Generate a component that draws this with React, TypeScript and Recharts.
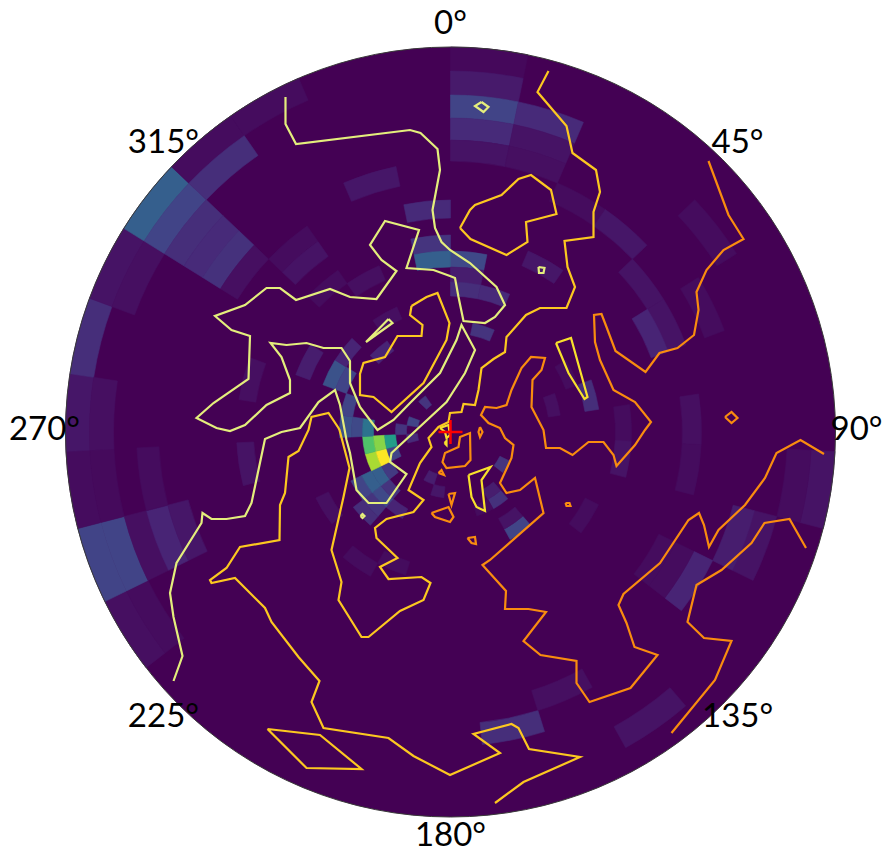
import { Pie, PieChart, ReferenceDot, Scatter, ScatterChart, Sector, XAxis, YAxis } from "recharts";

const WIDTH = 882;
const HEIGHT = 852;
const CX = 450.5;
const CY = 432;
const RADIUS = 385;

// ring edges, outer to inner, 31 sectors per ring
const ringEdges = [385, 361, 337, 314, 292, 271, 251, 232, 214, 197, 181, 165, 150, 136, 123, 111, 99, 88, 77, 66, 55, 44, 33, 22, 11, 0];
const sectorCount = 31;

// [ring, sector, value] for every cell above the floor of the colour scale
const heatCells = [
  [0, 26, 0.3], [1, 26, 0.2], [2, 26, 0.13], [3, 26, 0.12], [4, 26, 0.14], [5, 26, 0.04],
  [1, 27, 0.13], [0, 27, 0.03], [0, 28, 0.03], [0, 25, 0.05], [1, 25, 0.04], [0, 24, 0.13],
  [0, 23, 0.06], [1, 23, 0.04], [0, 22, 0.03], [1, 22, 0.025], [0, 21, 0.2], [1, 21, 0.2],
  [2, 21, 0.04], [3, 21, 0.1], [4, 21, 0.06], [0, 20, 0.04], [1, 20, 0.03], [8, 22, 0.05],
  [3, 22, 0.03], [5, 29, 0.06], [7, 30, 0.12], [9, 30, 0.15], [10, 30, 0.3], [10, 0, 0.22],
  [12, 1, 0.12], [15, 1, 0.15], [12, 0, 0.13], [11, 0, 0.08], [2, 0, 0.2], [3, 0, 0.12],
  [1, 0, 0.07], [4, 0, 0.05], [0, 0, 0.02], [2, 1, 0.12], [3, 1, 0.05], [4, 1, 0.04],
  [5, 3, 0.06], [5, 2, 0.03], [2, 4, 0.03], [7, 5, 0.1], [6, 5, 0.05], [6, 4, 0.05],
  [4, 5, 0.03], [9, 2, 0.06], [12, 6, 0.13], [6, 7, 0.04], [10, 7, 0.03], [15, 6, 0.04],
  [13, 5, 0.03], [14, 12, 0.2], [17, 12, 0.14], [18, 12, 0.08], [15, 12, 0.05], [19, 10, 0.15],
  [17, 13, 0.03], [4, 10, 0.1], [6, 10, 0.03], [5, 10, 0.03], [3, 9, 0.08], [2, 9, 0.05],
  [0, 8, 0.05], [1, 8, 0.03], [10, 8, 0.05], [6, 8, 0.03], [3, 14, 0.13], [4, 13, 0.04],
  [1, 12, 0.05], [11, 10, 0.03], [17, 22, 0.72], [18, 22, 0.82], [19, 22, 0.55], [17, 23, 0.38],
  [16, 23, 0.22], [17, 21, 0.87], [18, 21, 1], [19, 21, 0.2], [16, 20, 0.3], [17, 20, 0.3],
  [18, 20, 0.17], [15, 20, 0.2], [16, 19, 0.22], [17, 19, 0.15], [16, 18, 0.1], [14, 19, 0.13],
  [15, 19, 0.15], [15, 24, 0.2], [13, 25, 0.25], [14, 25, 0.2], [11, 25, 0.08], [13, 26, 0.1],
  [15, 27, 0.1], [13, 28, 0.04], [10, 28, 0.04], [7, 27, 0.05], [6, 27, 0.03], [8, 24, 0.04],
  [9, 27, 0.03], [21, 27, 0.15], [21, 24, 0.2], [20, 23, 0.15], [21, 22, 0.12], [20, 17, 0.08],
  [19, 16, 0.06], [15, 23, 0.25], [12, 20, 0.04], [11, 18, 0.03], [12, 17, 0.03],
];

const viridisStops = [
  [68, 1, 84], [72, 36, 117], [65, 68, 135], [53, 95, 141], [42, 120, 142], [33, 145, 140],
  [34, 168, 132], [68, 191, 112], [122, 209, 81], [189, 223, 38], [253, 231, 37],
];

// contours, as [east, north] offsets from the pole
const paleContour = [
  [-165, 335], [-165, 308], [-154.5, 288], [-40.5, 302], [-30, 299], [-13, 283], [-10.5, 262], [-18, 222], [-15.5, 204],
  [-9, 190], [-0.5, 182], [19.5, 169], [46, 145], [54.5, 127], [44.5, 115], [34.5, 109], [13, 111], [8, 135], [4.5, 154],
  [-0.5, 156], [-17, 162], [-44, 164], [-31.5, 202], [-65.5, 211], [-80.5, 187], [-69, 172], [-54, 161], [-74, 133],
  [-100.5, 135], [-120.5, 143], [-154.5, 132], [-170.5, 144], [-184, 144], [-205.5, 127], [-235.5, 116], [-219, 102],
  [-200.5, 96], [-202, 53], [-237, 29], [-254, 14], [-234, 4], [-220.5, 1], [-205.5, 7], [-184, 27], [-160.5, 39],
  [-160.5, 52], [-169, 75], [-180, 89], [-164, 87], [-144, 89], [-127, 84], [-109, 84], [-100.5, 71], [-100.5, 49],
  [-90.5, 25], [-73, 2], [-57, 12], [-40.5, 29], [-10.5, 59], [6, 92], [11, 107], [24.5, 82], [14.5, 59], [-4, 30],
  [-59, -21], [-60.5, -30], [-44, -42], [-64, -71], [-82, -71], [-94, -58], [-100.5, -21], [-104, -8], [-110.5, 27],
  [-115.5, 42], [-132, 30], [-150.5, 4], [-169, 0], [-185.5, -7], [-199, -71], [-205.5, -84], [-224, -87], [-239, -87],
  [-248, -81], [-249, -91], [-274, -131], [-280.5, -161], [-277, -185], [-268, -224], [-277, -249],
];
const paleLoops = [
  [[31, 330], [38, 325], [33, 320], [24.5, 326]],
  [[88, 165], [94, 164], [93, 159], [88.5, 159]],
  [[-62, 113], [-58, 109], [-84.5, 90]],
  [[-90, -84], [-88, -82], [-86, -84], [-88, -86]],
];

const yellowContour = [
  [98, 361], [87, 340], [116, 306], [122, 279], [145.5, 262], [149.5, 240], [143, 220], [143, 195], [114, 191], [117, 165],
  [124.5, 145], [116, 124], [89.5, 124], [75.5, 117], [56, 95], [54.5, 80], [43, 73], [31, 64], [28, 42], [24.5, 27],
  [13, 28], [11, 20], [-0.5, 19], [-2, 10], [-12, 5], [-22, -6], [-19, -15], [-30.5, -31], [-42, -58], [-27, -68],
  [-37, -80], [-64, -87], [-75.5, -96], [-74, -106], [-53, -126], [-70.5, -135], [-62, -147], [-29, -145], [-20, -151],
  [-27, -168], [-50.5, -179], [-82, -205], [-89, -205], [-112, -168], [-109, -150], [-119, -118], [-107, -65], [-101, -36],
  [-111, 2], [-112, 4], [-122, 19], [-139, 15], [-142, 2], [-152, -19], [-162, -25], [-165.5, -61], [-170.5, -73],
  [-171, -108], [-210.5, -115], [-224, -136], [-240.5, -148], [-239, -151], [-215.5, -146], [-185.5, -176], [-179, -190],
  [-152, -225], [-131, -249], [-139, -270], [-127, -296], [-62, -306], [-37, -324], [-0.5, -343], [49.5, -321], [23, -302],
  [61, -292], [68, -296], [78.5, -317], [129.5, -325], [73, -350], [44.5, -371],
];
const yellowLoops = [
  [[-39, 126], [-24, 135], [-13, 139], [-1, 109], [-4, 92], [-27, 49], [-59, 20], [-77, 35], [-90.5, 37], [-90.5, 58], [-87, 69], [-65.5, 75], [-53, 96], [-29, 96], [-28, 107], [-40.5, 117]],
  [[-183, -297], [-130.5, -303], [-89, -337], [-144, -336]],
  [[9.5, 204], [19.5, 222], [24.5, 227], [51, 237], [68, 253], [80.5, 257], [100.5, 242], [106, 218], [75.5, 210], [77, 190], [56, 177], [20, 193]],
];
const brightLoops = [
  [[105.5, 89], [120.5, 94], [137, 35], [134, 33], [118, 59]],
  [[18, -43], [40, -35], [31, -48], [34.5, -79], [26, -75], [21, -65]],
  [[-10.5, 4], [-2, 7], [-0.5, -3], [-4, -6], [-5.5, 0]],
  [[-6, -11], [-4, -9], [-4, -13]],
];

const orangeContour = [
  [258, 271], [278, 217], [293, 193], [273, 182], [256, 162], [246, 140], [248, 122], [243.5, 97], [227, 84], [209, 79],
  [195, 60], [165, 81], [156, 105], [151, 118], [143.5, 117], [144.5, 90], [149.5, 72], [163, 42], [184.5, 30], [200.5, 10],
  [194.5, 2], [184.5, -13], [166, -34], [163, -23], [153, -10], [138, -10], [122, -23], [109.5, -16], [95.5, -16], [93, 2],
  [81, 25], [82, 52], [91, 62], [94.5, 74], [80.5, 75], [71, 64], [61, 42], [56, 27], [46, 24], [34.5, 25], [30.5, 17],
  [38, 9], [49.5, 4], [54.5, -6], [63, -13], [61, -26], [49.5, -51], [56, -61], [69.5, -58], [84.5, -46], [93, -81],
  [39.5, -128], [32, -133], [55.5, -159], [54.5, -177], [78, -177], [95.5, -180], [73, -209], [90, -223], [126, -229],
  [126, -251], [139, -270], [180, -256], [207, -223], [184, -215], [176, -191], [168, -173], [173, -162], [209.5, -131],
  [238, -88], [248.5, -81], [253.5, -93], [258.5, -115], [268, -98], [294.5, -73], [314.5, -46], [326, -21], [350, -8], [373.5, -22],
];
const orangeLine = [
  [355.5, -116], [339, -87], [314, -91], [301, -111], [271, -138], [246, -153], [237, -190], [253.5, -206], [281, -209], [264.5, -248], [221, -301],
];
const orangeLoops = [
  [[274.5, 15], [281, 20], [287, 14], [281, 9]],
  [[115, -71], [119, -71], [120, -74], [116, -74]],
  [[17, -106], [24.5, -105], [25.5, -112], [21, -111]],
  [[-19, -81], [-2, -75], [3, -85], [-0.5, -90], [-15.5, -85]],
  [[-2, -62], [4.5, -61], [1, -73]],
  [[-12, -41], [-9, -38], [-6.5, -43]],
  [[14.5, -3], [19.5, -1], [20, -28], [14.5, -34], [-4, -36], [-8, -30], [-5.5, -21], [8, -15], [9.5, -5]],
  [[29.5, 5], [32, 0], [29.5, -5], [28, 0]],
];

const crossArms = [
  [[-12, 0], [12, 0]],
  [[0, -12], [0, 12]],
];

const angleTicks = [0, 45, 90, 135, 180, 225, 270, 315];
const labelRadius = 406;

function viridis(v: number) {
  const t = Math.min(v, 1) * (viridisStops.length - 1);
  const i = Math.min(Math.floor(t), viridisStops.length - 2);
  const f = t - i;
  const c = viridisStops[i].map((a, k) => Math.round(a + (viridisStops[i + 1][k] - a) * f));
  return `rgb(${c[0]},${c[1]},${c[2]})`;
}

// only cells above the floor are drawn, over one disc in the floor colour
function ringData(ring: number) {
  return Array.from({ length: sectorCount }, (_, sector) => {
    const hit = heatCells.find((c) => c[0] === ring && c[1] === sector);
    return { sector, size: 1, fill: hit ? viridis(hit[2]) : "none" };
  });
}

const toPoints = (pairs: number[][]) => pairs.map(([x, y]) => ({ x, y }));
const closeLoop = (pairs: number[][]) => toPoints([...pairs, pairs[0]]);

const tickPoints = angleTicks.map((a) => ({
  x: labelRadius * Math.sin((a * Math.PI) / 180),
  y: labelRadius * Math.cos((a * Math.PI) / 180) + 5,
  label: `${a}°`,
}));

const noDot = () => <g />;

// hairline in the cell's own colour closes the seams between neighbours
function HeatSector(props: any) {
  return <Sector {...props} stroke={props.fill} strokeWidth={props.fill === "none" ? 0 : 0.6} />;
}

function TickLabel(props: any) {
  return (
    <text x={props.cx} y={props.cy} textAnchor="middle" dominantBaseline="central" fontFamily="Lato" fontSize={33} fill="#000">
      {props.payload.label}
    </text>
  );
}

function contourLine(key: string, points: { x: number; y: number }[], stroke: string, width = 2.2) {
  return (
    <Scatter
      key={key}
      data={points}
      line={{ stroke, strokeWidth: width }}
      lineType="joint"
      lineJointType="linear"
      shape={noDot}
      isAnimationActive={false}
    />
  );
}

export default function App() {
  const layer = { position: "absolute", left: 0, top: 0 } as const;
  return (
    <div style={{ position: "absolute", left: 0, top: 0, width: WIDTH, height: HEIGHT, background: "#fff" }}>
      <div style={layer}>
        <PieChart width={WIDTH} height={HEIGHT} margin={{ top: 0, right: 0, bottom: 0, left: 0 }}>
          <Pie
            data={[{ size: 1, fill: viridis(0) }]}
            dataKey="size"
            cx={CX}
            cy={CY}
            outerRadius={RADIUS}
            innerRadius={0}
            startAngle={90}
            endAngle={-270}
            stroke="none"
            isAnimationActive={false}
          />
          {ringEdges.slice(0, -1).map((outer, ring) => (
            <Pie
              key={ring}
              data={ringData(ring)}
              dataKey="size"
              cx={CX}
              cy={CY}
              outerRadius={outer}
              innerRadius={ringEdges[ring + 1]}
              startAngle={90}
              endAngle={-270}
              paddingAngle={0}
              stroke="none"
              shape={HeatSector}
              isAnimationActive={false}
            />
          ))}
        </PieChart>
      </div>
      <div style={layer}>
        <ScatterChart width={WIDTH} height={HEIGHT} margin={{ top: 0, left: 0, right: 0, bottom: 0 }}>
          <XAxis type="number" dataKey="x" domain={[-CX, WIDTH - CX]} hide />
          <YAxis type="number" dataKey="y" domain={[CY - HEIGHT, CY]} hide />
          <ReferenceDot x={0} y={0} r={RADIUS} fill="none" stroke="#3a3a3a" strokeWidth={1} />
          {contourLine("pale", toPoints(paleContour), "#e4ee7c")}
          {paleLoops.map((l, i) => contourLine(`pale-${i}`, closeLoop(l), "#e4ee7c"))}
          {contourLine("yellow", toPoints(yellowContour), "#fcc820")}
          {yellowLoops.map((l, i) => contourLine(`yellow-${i}`, closeLoop(l), "#fcc820"))}
          {brightLoops.map((l, i) => contourLine(`bright-${i}`, closeLoop(l), "#f8e12c"))}
          {contourLine("orange", toPoints(orangeContour), "#f98c0f")}
          {contourLine("orange-line", toPoints(orangeLine), "#f98c0f")}
          {orangeLoops.map((l, i) => contourLine(`orange-${i}`, closeLoop(l), "#f98c0f"))}
          {crossArms.map((l, i) => contourLine(`cross-${i}`, toPoints(l), "#ff0000", 2.5))}
          <Scatter data={tickPoints} shape={TickLabel} isAnimationActive={false} />
        </ScatterChart>
      </div>
    </div>
  );
}
